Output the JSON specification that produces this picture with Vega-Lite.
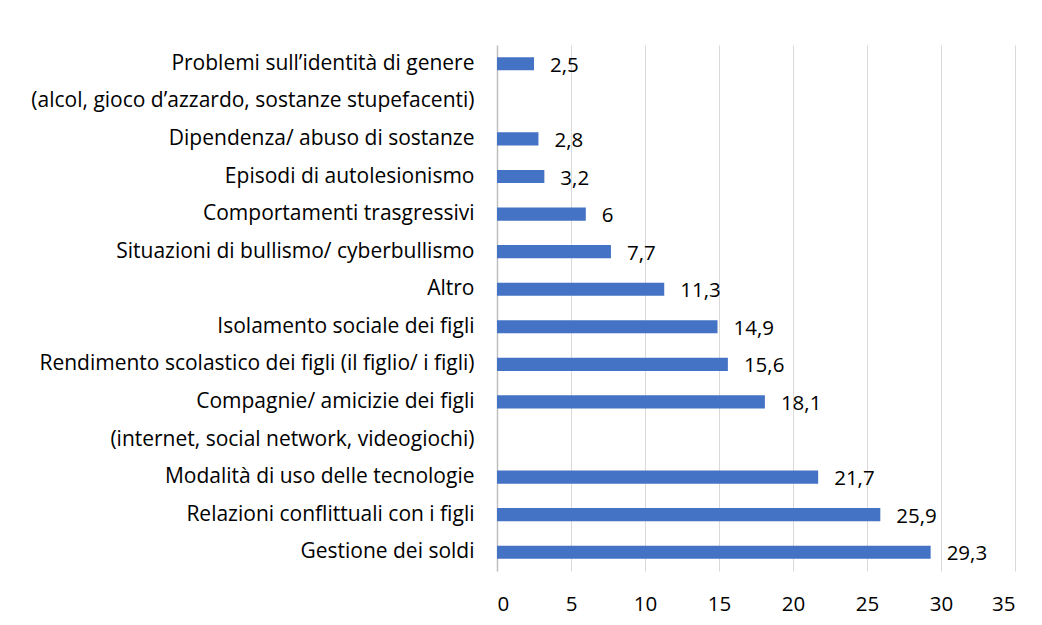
{
  "$schema": "https://vega.github.io/schema/vega-lite/v6.json",
  "autosize": "none",
  "width": 518,
  "height": 526,
  "padding": {"left": 497, "top": 45, "right": 27, "bottom": 54},
  "background": "white",
  "config": {
    "view": {"stroke": null},
    "font": "Open Sans",
    "locale": {"number": {"decimal": ",", "thousands": ".", "grouping": [3], "currency": ["", " €"]}}
  },
  "data": {
    "values": [
      {"categoria": "Problemi sull’identità di genere", "valore": 2.5},
      {"categoria": "(alcol, gioco d’azzardo, sostanze stupefacenti)", "valore": null},
      {"categoria": "Dipendenza/ abuso di sostanze\u00a0", "valore": 2.8},
      {"categoria": "Episodi di autolesionismo", "valore": 3.2},
      {"categoria": "Comportamenti trasgressivi", "valore": 6},
      {"categoria": "Situazioni di bullismo/ cyberbullismo\u00a0", "valore": 7.7},
      {"categoria": "Altro", "valore": 11.3},
      {"categoria": "Isolamento sociale dei figli", "valore": 14.9},
      {"categoria": "Rendimento scolastico dei figli (il figlio/ i figli)", "valore": 15.6},
      {"categoria": "Compagnie/ amicizie dei figli", "valore": 18.1},
      {"categoria": "(internet, social network, videogiochi)", "valore": null},
      {"categoria": "Modalità di uso delle tecnologie\u00a0", "valore": 21.7},
      {"categoria": "Relazioni conflittuali con i figli", "valore": 25.9},
      {"categoria": "Gestione dei soldi", "valore": 29.3}
    ]
  },
  "encoding": {
    "y": {
      "field": "categoria",
      "type": "nominal",
      "scale": {
        "domain": [
          "Problemi sull’identità di genere",
          "(alcol, gioco d’azzardo, sostanze stupefacenti)",
          "Dipendenza/ abuso di sostanze\u00a0",
          "Episodi di autolesionismo",
          "Comportamenti trasgressivi",
          "Situazioni di bullismo/ cyberbullismo\u00a0",
          "Altro",
          "Isolamento sociale dei figli",
          "Rendimento scolastico dei figli (il figlio/ i figli)",
          "Compagnie/ amicizie dei figli",
          "(internet, social network, videogiochi)",
          "Modalità di uso delle tecnologie\u00a0",
          "Relazioni conflittuali con i figli",
          "Gestione dei soldi"
        ],
        "paddingInner": 0.65,
        "paddingOuter": 0.325
      },
      "axis": {
        "title": null,
        "ticks": false,
        "domain": true,
        "domainColor": "#bfbfbf",
        "domainWidth": 1.5,
        "labelFontSize": 21,
        "labelColor": "#000000",
        "labelPadding": 23,
        "labelLimit": 600,
        "grid": false
      }
    },
    "x": {
      "field": "valore",
      "type": "quantitative",
      "scale": {"domain": [0, 35], "nice": false},
      "axis": {
        "title": null,
        "values": [0, 5, 10, 15, 20, 25, 30, 35],
        "ticks": false,
        "domain": false,
        "grid": true,
        "gridColor": "#d9d9d9",
        "gridWidth": 1,
        "labelFontSize": 20.5,
        "labelColor": "#000000",
        "labelPadding": 23,
        "format": "d"
      }
    }
  },
  "layer": [
    {
      "mark": {"type": "bar", "color": "#4472c4"}
    },
    {
      "transform": [{"filter": "isValid(datum.valore)"}],
      "mark": {"type": "text", "align": "left", "baseline": "middle", "dx": 16, "dy": 2, "fontSize": 20.5, "color": "#000000"},
      "encoding": {
        "text": {"field": "valore", "type": "quantitative", "format": ".1~f"}
      }
    }
  ]
}
